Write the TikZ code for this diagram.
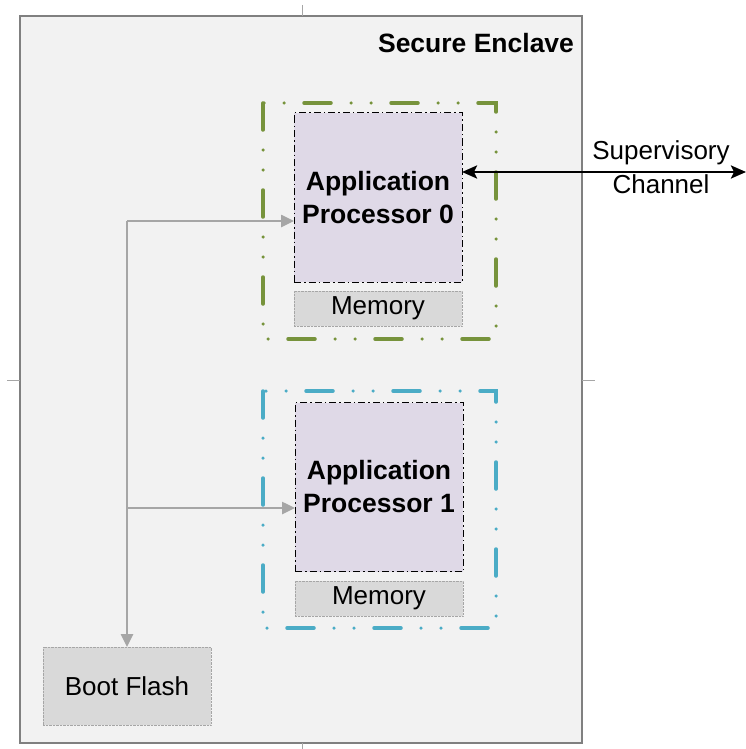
\documentclass[tikz,border=0pt]{standalone}
\usepackage{fontspec}
\setmainfont{Liberation Sans}
\usetikzlibrary{arrows.meta}

\definecolor{encl}{HTML}{F2F2F2}
\definecolor{lav}{HTML}{DFD9E7}
\definecolor{memgray}{HTML}{D9D9D9}
\definecolor{olive}{HTML}{77933C}
\definecolor{aqua}{HTML}{4BACC6}
\definecolor{wire}{HTML}{A6A6A6}

\tikzset{
  zone/.style={line width=3.5pt,line cap=round,
    dash pattern=on 27pt off 20pt on 0pt off 20pt on 0pt off 20pt},
  procbox/.style={draw,fill=lav,line width=1pt,
    dash pattern=on 7pt off 3pt on 1.5pt off 3pt,
    minimum width=168pt,minimum height=169pt,align=center,
    font=\fontsize{26.5}{33}\selectfont\bfseries},
  membox/.style={draw=wire,fill=memgray,densely dotted,
    minimum width=168pt,font=\fontsize{26}{31}\selectfont},
}

\begin{document}
\begin{tikzpicture}[x=1pt,y=-1pt,inner sep=0pt,outer sep=0pt]

        \useasboundingbox (0,0) rectangle (746,749);

        % enclave and centre marks
        \draw[gray,line width=1.5pt,fill=encl] (20,16) rectangle (582,743);
        \begin{scope}[wire,line width=1pt]
          \draw (302,5) -- (302,16);
          \draw (302,743) -- (302,749);
          \draw (7,380) -- (20,380);
          \draw (582,380) -- (595,380);
        \end{scope}
        \node[anchor=base east,font=\fontsize{26.5}{30}\selectfont\bfseries]
          (title) at (574,53) {Secure Enclave};

        \draw[zone,olive] (263,103) rectangle (496,339);
        \draw[zone,aqua]  (263,391) rectangle (496,628);

        \begin{scope}[every node/.style={procbox}]
          \node (ap0) at (378,197.5) {Application\\Processor 0};
          \node (ap1) at (379,487)   {Application\\Processor 1};
        \end{scope}

        \begin{scope}[every node/.style={membox}]
          \node[minimum height=35pt] (mem0)  at (378,308.5) {Memory};
          \node[minimum height=35pt] (mem1)  at (379,598.5) {Memory};
          \node[minimum height=78pt] (flash) at (127,686)   {Boot Flash};
        \end{scope}

        \coordinate (bus0) at (127,221);
        \coordinate (bus1) at (127,508);
        \coordinate (sup)  at (746,172);

        \begin{scope}[every edge/.style={draw,wire,line width=2.5pt,
            -{Triangle[length=13pt,width=12pt]}}]
          \path (bus0) edge (flash);
          \path (bus0) edge (bus0 -| ap0.west);
          \path (bus1) edge (bus1 -| ap1.west);
        \end{scope}

        \draw[line width=2.5pt,{Stealth[length=15pt,width=13pt,inset=3pt]}-{Stealth[length=15pt,width=13pt,inset=3pt]}]
          (sup -| ap0.east) -- (sup);
        \node[align=center,font=\fontsize{26}{34}\selectfont] (chan) at (661,167)
          {Supervisory\\Channel};

      \end{tikzpicture}
\end{document}
